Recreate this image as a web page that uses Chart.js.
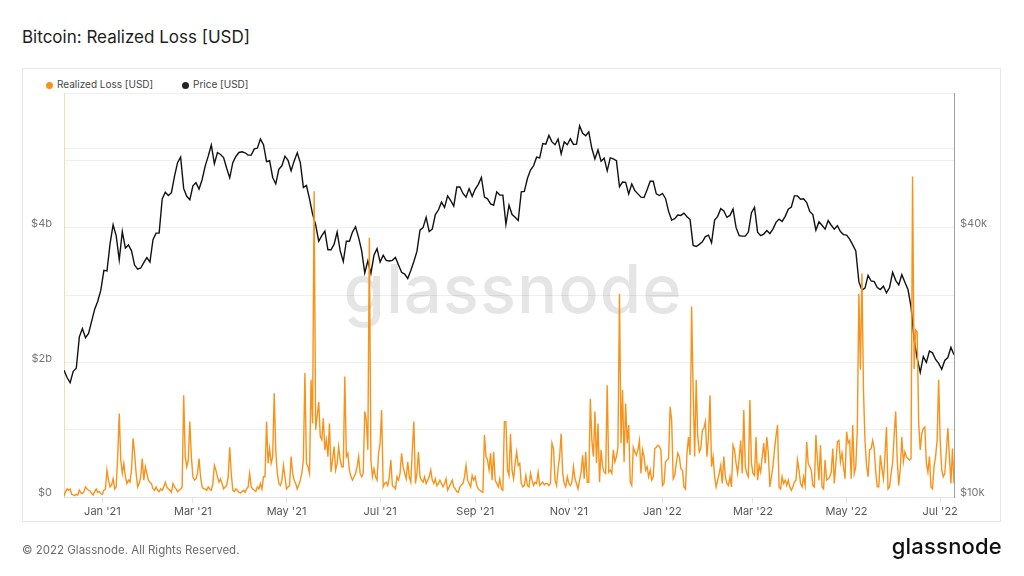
<!DOCTYPE html>
<html>
<head>
<meta charset="utf-8">
<script src="https://cdn.jsdelivr.net/npm/chart.js@4.4.1/dist/chart.umd.min.js"></script>
<style>
  body { margin: 0; width: 1024px; height: 576px; background: #fff; position: relative; overflow: hidden;
         font-family: Inter, "Noto Sans", sans-serif; }
  #title { position: absolute; left: 22px; top: 26px; font-size: 17px; line-height: 22px; color: #1d1d1d; }
  #card { position: absolute; left: 22px; top: 68px; width: 979px; height: 454px; border: 1px solid #e6e6e6; box-sizing: border-box; }
  .leg { position: absolute; top: 78px; font-size: 10px; line-height: 13px; color: #444; }
  .leg i { display: inline-block; width: 7px; height: 7px; border-radius: 50%; margin-right: 4px; vertical-align: -0.5px; }
  #foot { position: absolute; left: 22px; top: 542px; font-size: 11.5px; line-height: 16px; color: #6b6b6b; }
  #logo { position: absolute; right: 22px; top: 533px; font-size: 22px; line-height: 26px; font-weight: 500; color: #111; letter-spacing: 0.2px; }
  #wrap { position: absolute; left: 0; top: 0; width: 1024px; height: 576px; }
</style>
</head>
<body>
<div id="title">Bitcoin: Realized Loss [USD]</div>
<div id="card"></div>
<div class="leg" style="left:46px"><i style="background:#f7931a"></i>Realized Loss [USD]</div>
<div class="leg" style="left:182px"><i style="background:#222"></i>Price [USD]</div>
<div id="wrap"><canvas id="chart"></canvas></div>
<div id="foot">© 2022 Glassnode. All Rights Reserved.</div>
<div id="logo">glassnode</div>
<script>
// day 0 = 2020-12-07, one loss value per day (USD billions)
const lossValues = [
  0.01,0.08,0.12,0.1,0.12,0.04,0.03,0.02,0.04,0.03,
  0.1,0.06,0.05,0.08,0.15,0.12,0.1,0.09,0.05,0.03,
  0.08,0.12,0.07,0.08,0.05,0.04,0.1,0.12,0.4,0.25,
  0.15,0.18,0.27,0.12,0.15,0.6,1.24,0.55,0.35,0.5,
  0.3,0.2,0.25,0.22,0.4,0.87,0.65,0.35,0.15,0.2,
  0.3,0.57,0.25,0.45,0.35,0.25,0.22,0.2,0.12,0.1,
  0.15,0.1,0.08,0.12,0.1,0.15,0.22,0.15,0.12,0.1,
  0.07,0.2,0.15,0.12,0.08,0.1,0.12,0.15,1.51,0.6,
  0.45,0.55,1.12,0.6,0.3,0.25,0.27,0.35,0.57,0.3,
  0.15,0.12,0.12,0.1,0.15,0.12,0.1,0.2,0.47,0.4,
  0.3,0.22,0.27,0.2,0.12,0.15,0.17,0.3,0.74,0.35,
  0.1,0.08,0.12,0.1,0.07,0.06,0.08,0.1,0.07,0.12,
  0.15,0.35,0.15,0.12,0.1,0.08,0.15,0.12,0.2,0.12,
  0.3,0.3,1.12,0.5,0.72,0.5,0.6,1.54,0.7,0.35,
  0.2,0.17,0.25,0.47,0.3,0.12,0.15,0.17,0.6,0.35,
  0.25,0.2,0.12,0.18,0.25,0.35,0.55,1.84,0.5,0.45,
  0.35,1.74,1.09,4.54,1.0,1.2,1.41,0.9,0.85,1.17,
  0.7,0.85,0.6,1.09,0.37,0.55,0.75,0.4,0.5,0.75,
  0.55,0.45,0.45,1.79,0.6,0.65,0.4,0.3,0.25,0.3,
  0.35,0.45,0.6,0.35,0.3,0.35,1.27,1.14,0.7,3.85,
  0.55,0.3,0.42,0.3,0.25,0.65,0.8,1.29,0.15,0.2,
  0.22,0.17,0.3,0.55,0.17,0.15,0.12,0.3,0.25,0.35,
  0.65,0.45,0.35,0.27,0.52,0.3,0.22,0.7,1.12,0.2,
  0.35,0.67,0.3,0.25,0.22,0.3,0.2,0.25,0.3,0.4,
  0.25,0.2,0.27,0.17,0.2,0.25,0.2,0.15,0.2,0.27,
  0.1,0.15,0.2,0.25,0.15,0.12,0.08,0.07,0.15,0.18,
  0.2,0.3,0.47,0.25,0.2,0.15,0.32,0.25,0.3,0.17,
  0.12,0.1,0.08,0.07,0.92,0.6,0.55,0.4,0.65,0.25,
  0.67,0.25,0.2,0.15,0.27,0.12,0.1,1.12,1.12,0.4,
  0.32,0.94,0.4,0.27,0.5,0.67,0.47,0.5,0.2,0.15,
  0.17,0.32,0.17,0.15,0.35,0.25,0.17,0.22,0.2,0.37,
  0.17,0.2,0.22,0.18,0.2,0.2,0.17,0.2,0.8,0.72,
  0.25,0.17,0.42,0.6,0.94,0.35,0.2,0.15,0.3,0.2,
  0.17,0.22,0.45,0.27,0.2,0.12,0.25,0.37,0.62,0.27,
  0.67,0.22,0.22,1.46,0.84,0.6,1.27,0.5,1.09,0.22,
  0.7,0.45,0.37,0.35,1.66,0.37,0.4,0.35,0.7,0.52,
  0.6,0.74,3.02,0.8,1.59,0.52,1.39,0.8,1.07,0.22,
  0.17,0.74,0.67,0.62,0.7,0.84,0.35,0.7,0.6,0.4,
  0.45,0.3,0.4,0.25,0.3,0.72,0.74,0.77,0.75,0.7,
  0.17,0.2,0.52,0.55,0.57,1.34,1.14,0.27,0.32,0.5,
  0.65,0.6,0.42,0.4,0.15,0.12,0.65,0.89,0.62,2.83,
  1.59,0.6,1.74,0.9,0.67,0.72,0.99,1.02,1.12,0.6,
  0.9,1.51,0.45,0.6,0.3,0.15,0.25,0.35,0.47,0.2,
  0.6,0.3,0.2,0.17,0.3,0.15,0.77,0.7,0.5,0.35,
  0.57,0.84,0.35,1.29,0.45,0.35,0.3,1.44,0.5,0.35,
  0.32,0.89,0.25,0.47,0.37,0.6,0.8,0.5,0.89,0.65,
  0.15,0.3,0.45,0.7,0.9,1.07,0.15,0.12,0.3,0.2,
  0.25,0.17,0.25,0.15,0.1,0.15,0.22,0.25,0.55,0.4,
  0.2,0.15,0.3,0.17,0.82,0.5,0.45,0.4,0.17,0.15,
  0.92,0.55,0.25,0.77,0.15,0.12,0.55,0.25,0.27,0.3,
  0.37,0.72,0.2,0.5,0.82,0.84,0.52,0.65,0.45,0.27,
  0.97,0.8,0.84,0.27,1.07,0.35,0.45,1.0,3.02,1.89,
  3.32,1.59,0.84,0.47,0.3,0.7,0.72,0.84,0.72,0.37,
  0.15,0.15,0.62,0.42,0.27,0.6,1.04,0.12,0.15,0.35,
  0.5,0.92,1.27,0.55,0.17,0.42,0.89,0.52,0.67,0.6,
  0.57,0.55,0.57,4.76,1.9,2.48,2.45,1.09,0.7,0.94,
  1.02,1.04,0.5,0.37,0.6,0.15,0.12,0.45,0.6,0.84,
  1.74,0.84,0.4,0.3,0.35,0.67,1.02,0.6,0.2,0.72,
  0.2
];

// BTC price (USD thousands), every second day from 2020-12-07
const priceStep = 2;
const priceValues = [
  19.2,18.5,18.0,19.1,19.4,22.8,23.8,22.7,23.2,24.7,26.3,27.4,29.0,
  32.1,32.0,36.8,40.6,38.4,33.9,39.2,36.0,36.6,35.5,33.0,32.3,32.5,33.4,34.3,
  33.5,37.6,38.9,38.9,46.4,48.0,47.2,47.9,52.1,55.9,57.5,48.9,47.0,46.2,
  49.6,50.4,48.8,51.2,54.9,57.8,61.2,55.6,58.9,58.3,57.4,54.3,51.7,55.9,57.7,58.9,
  59.1,58.8,58.1,58.1,60.0,60.2,63.1,61.3,56.2,56.5,51.8,50.1,54.0,55.0,57.8,
  56.6,53.6,56.4,58.8,55.9,49.2,49.7,46.4,42.9,40.6,37.3,38.4,39.3,35.7,35.7,
  36.7,39.1,35.5,33.6,37.3,37.3,39.1,40.2,38.0,35.5,31.7,33.7,31.6,34.7,35.9,
  33.5,34.7,33.8,33.7,33.8,34.3,33.0,31.8,31.5,30.8,32.1,33.6,35.4,39.5,40.0,42.2,
  39.2,39.7,42.8,43.8,45.6,44.4,47.1,46.0,44.7,49.3,49.3,47.7,46.8,48.9,47.0,
  48.8,50.0,51.8,46.8,46.4,45.2,44.9,48.1,47.3,47.3,40.7,44.9,42.8,42.2,41.5,
  48.1,48.2,51.5,53.8,55.0,57.5,57.3,61.7,61.5,64.3,62.2,61.3,63.1,58.5,62.2,61.3,
  63.2,61.4,61.5,67.6,65.0,64.2,65.5,60.1,57.0,59.7,56.3,57.2,53.6,57.3,57.0,
  56.5,49.4,50.6,50.5,47.6,50.1,48.4,47.6,46.8,46.7,48.6,50.8,50.8,47.6,47.2,
  47.7,46.5,43.5,41.6,41.9,42.7,42.6,43.1,42.3,41.7,36.5,36.3,36.7,37.2,38.2,38.5,
  37.0,41.6,42.4,44.1,43.6,42.2,42.6,44.0,40.0,38.4,38.3,38.3,39.1,43.2,
  44.4,39.1,38.4,38.7,39.4,38.8,39.7,41.1,41.8,41.3,42.4,44.0,44.5,47.1,47.1,
  46.3,46.4,45.5,43.5,42.8,39.5,41.2,40.5,39.7,41.5,40.5,39.7,40.4,39.2,38.6,
  38.5,37.7,36.6,35.5,30.3,29.0,29.3,31.3,30.4,30.3,29.4,29.1,29.6,28.6,29.4,31.8,
  30.5,29.8,31.4,30.2,29.1,26.6,22.5,20.4,19.0,20.6,20.0,21.2,21.0,20.3,19.9,
  19.3,20.2,20.5,21.6,20.8
];

const monthDays = [25, 84, 145, 206, 268, 329, 390, 449, 510, 571];
const monthLabels = ["Jan '21", "Mar '21", "May '21", "Jul '21", "Sep '21", "Nov '21",
                     "Jan '22", "Mar '22", "May '22", "Jul '22"];
const lossTicks = [0, 1, 2, 3, 4, 5, 6];
const priceTicks = [10000, 20000, 40000, 60000];

const watermark = {
  id: 'watermark',
  beforeDatasetsDraw(chart) {
    const { ctx, chartArea: a } = chart;
    ctx.save();
    ctx.font = '500 67px Inter, "Noto Sans", sans-serif';
    ctx.letterSpacing = '1px';
    ctx.fillStyle = 'rgba(0,0,0,0.1)';
    ctx.textAlign = 'center';
    ctx.textBaseline = 'alphabetic';
    ctx.fillText('glassnode', (a.left + a.right) / 2 + 4, 313);
    ctx.restore();
  }
};

const tickFont = { family: 'Inter, "Noto Sans", sans-serif', size: 11 };

new Chart(document.getElementById('chart'), {
  type: 'line',
  data: {
    datasets: [
      {
        label: 'Realized Loss [USD]',
        data: lossValues.map((v, i) => ({ x: i, y: v })),
        yAxisID: 'y',
        borderColor: '#f7931a',
        borderWidth: 1.4,
        pointRadius: 0,
        tension: 0,
      },
      {
        label: 'Price [USD]',
        data: priceValues.map((v, i) => ({ x: i * priceStep, y: v * 1000 })),
        yAxisID: 'y1',
        borderColor: '#111111',
        borderWidth: 1.4,
        pointRadius: 0,
        tension: 0,
      },
    ],
  },
  options: {
    responsive: true,
    maintainAspectRatio: false,
    animation: false,
    layout: { padding: { top: 93, left: 0, right: 0, bottom: 0 } },
    plugins: { legend: { display: false }, tooltip: { enabled: false } },
    scales: {
      x: {
        type: 'linear',
        min: 0,
        max: 580,
        afterFit: (s) => { s.height = 79; },
        afterBuildTicks: (s) => { s.ticks = monthDays.map((v) => ({ value: v })); },
        ticks: {
          autoSkip: false,
          maxRotation: 0,
          padding: 2,
          color: '#555',
          font: tickFont,
          callback: (v) => monthLabels[monthDays.indexOf(v)],
        },
        grid: { drawOnChartArea: false, drawTicks: true, tickLength: 6, color: '#e3e3e3' },
        border: { color: '#e3e3e3' },
      },
      y: {
        position: 'left',
        min: 0,
        max: 6,
        afterFit: (s) => { s.width = 64; },
        afterBuildTicks: (s) => { s.ticks = lossTicks.map((v) => ({ value: v })); },
        ticks: {
          padding: 12,
          labelOffset: -4,
          color: '#777',
          font: tickFont,
          callback: (v) => (v === 0 ? '$0' : (v === 2 || v === 4) ? '$' + v + 'b' : ''),
        },
        grid: { color: '#eeeeee', drawTicks: false },
        border: { color: 'rgba(247,147,26,0.35)' },
      },
      y1: {
        type: 'logarithmic',
        position: 'right',
        min: 10000,
        max: 80000,
        afterFit: (s) => { s.width = 70; },
        afterBuildTicks: (s) => { s.ticks = priceTicks.map((v) => ({ value: v })); },
        ticks: {
          padding: 6,
          labelOffset: -4,
          color: '#777',
          font: tickFont,
          callback: (v) => (v === 10000 ? '$10k' : v === 40000 ? '$40k' : ''),
        },
        grid: { color: '#eeeeee', drawTicks: false },
        border: { color: '#a0a0a0' },
      },
    },
  },
  plugins: [watermark],
});
</script>
</body>
</html>
